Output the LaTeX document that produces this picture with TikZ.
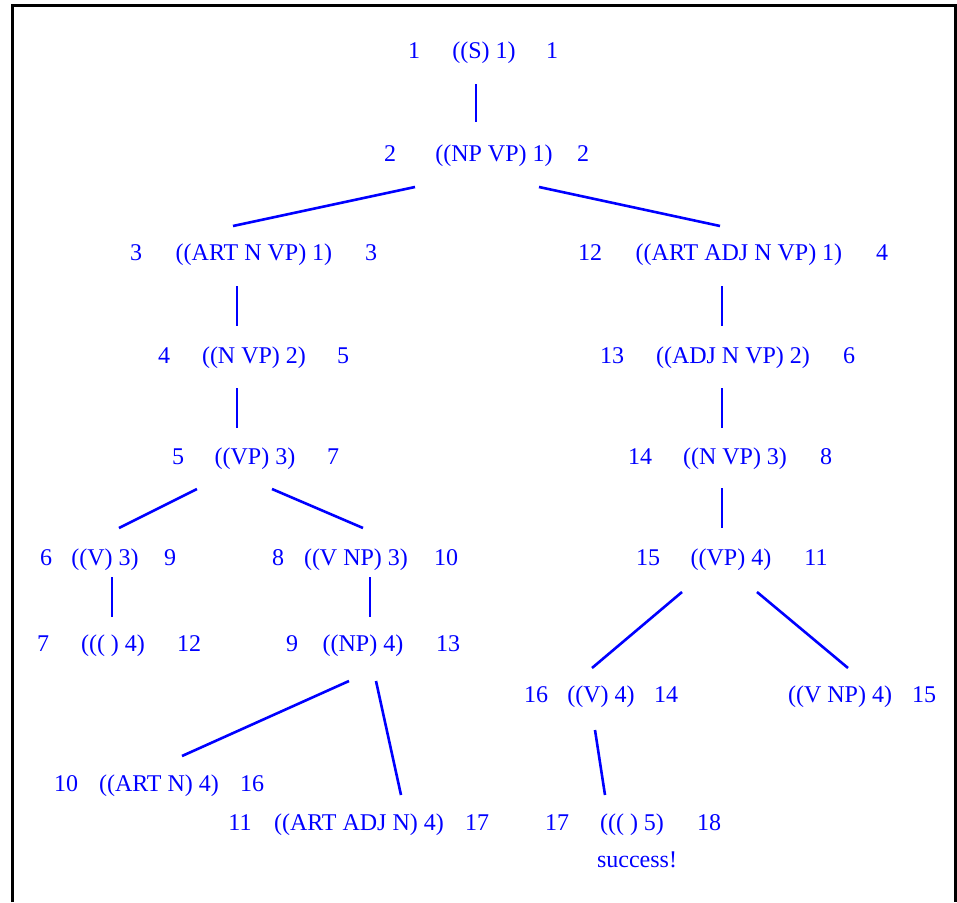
\documentclass[tikz,border=0pt]{standalone}
\usepackage{fontspec}
\setmainfont{Liberation Serif}
\usetikzlibrary{calc}
\tikzset{
  lbl/.style={anchor=base, inner sep=0pt, text=blue},
  link/.style={draw=blue, line width=2.6pt},
}
\begin{document}
\begin{tikzpicture}[x=1pt, y=-1pt, font=\fontsize{24}{28}\selectfont]
\useasboundingbox (0,0) rectangle (957,902);
\draw[line width=3pt] (12,902) |- (955,5) -- (955,902);
% level 1 and 2
\node[lbl] (s1l) at (414,58) {1};
\node[lbl] (s1) at (484,58) {((S) 1)};
\node[lbl] (s1r) at (552,58) {1};
\node[lbl] (s2l) at (390,161) {2};
\node[lbl] (s2) at (494,161) {((NP VP) 1)};
\node[lbl] (s2r) at (583,161) {2};
% left branch
\node[lbl] (s3l) at (136,260) {3};
\node[lbl] (s3) at (254,260) {((ART N VP) 1)};
\node[lbl] (s3r) at (371,260) {3};
\node[lbl] (s4l) at (164,363) {4};
\node[lbl] (s4) at (254,363) {((N VP) 2)};
\node[lbl] (s4r) at (343,363) {5};
\node[lbl] (s5l) at (178,464) {5};
\node[lbl] (s5) at (255,464) {((VP) 3)};
\node[lbl] (s5r) at (333,464) {7};
\node[lbl] (s6l) at (46,565) {6};
\node[lbl] (s6) at (105,565) {((V) 3)};
\node[lbl] (s6r) at (170,565) {9};
\node[lbl] (s8l) at (278,565) {8};
\node[lbl] (s8) at (356,565) {((V NP) 3)};
\node[lbl] (s8r) at (446,565) {10};
\node[lbl] (s7l) at (43,651) {7};
\node[lbl] (s7) at (113,651) {((( ) 4)};
\node[lbl] (s7r) at (189,651) {12};
\node[lbl] (s9l) at (292,651) {9};
\node[lbl] (s9) at (363,651) {((NP) 4)};
\node[lbl] (s9r) at (448,651) {13};
\node[lbl] (s10l) at (66,791) {10};
\node[lbl] (s10) at (159,791) {((ART N) 4)};
\node[lbl] (s10r) at (252,791) {16};
\node[lbl] (s11l) at (240,830) {11};
\node[lbl] (s11) at (359,830) {((ART ADJ N) 4)};
\node[lbl] (s11r) at (477,830) {17};
% right branch
\node[lbl] (s12l) at (590,260) {12};
\node[lbl] (s12) at (739,260) {((ART ADJ N VP) 1)};
\node[lbl] (s12r) at (882,260) {4};
\node[lbl] (s13l) at (612,363) {13};
\node[lbl] (s13) at (733,363) {((ADJ N VP) 2)};
\node[lbl] (s13r) at (849,363) {6};
\node[lbl] (s14l) at (640,464) {14};
\node[lbl] (s14) at (735,464) {((N VP) 3)};
\node[lbl] (s14r) at (826,464) {8};
\node[lbl] (s15l) at (648,565) {15};
\node[lbl] (s15) at (731,565) {((VP) 4)};
\node[lbl] (s15r) at (816,565) {11};
\node[lbl] (s16l) at (536,702) {16};
\node[lbl] (s16) at (601,702) {((V) 4)};
\node[lbl] (s16r) at (666,702) {14};
\node[lbl] (sx) at (840,702) {((V NP) 4)};
\node[lbl] (sxr) at (924,702) {15};
\node[lbl] (s17l) at (557,830) {17};
\node[lbl] (s17) at (632,830) {((( ) 5)};
\node[lbl] (s17r) at (709,830) {18};
\node[lbl] (done) at (637,867) {success!};
% links
\draw[link] ($(s1.base)+(-8,26)$) -- ($(s2.base)+(-18,-39)$);
\draw[link] ($(s2.base)+(-79,26)$) -- ($(s3.base)+(-21,-34)$);
\draw[link] ($(s2.base)+(45,26)$) -- ($(s12.base)+(-19,-34)$);
\draw[link] ($(s3.base)+(-17,26)$) -- ($(s4.base)+(-17,-37)$);
\draw[link] ($(s4.base)+(-17,25)$) -- ($(s5.base)+(-18,-36)$);
\draw[link] ($(s5.base)+(-58,25)$) -- ($(s6.base)+(14,-37)$);
\draw[link] ($(s5.base)+(17,25)$) -- ($(s8.base)+(7,-37)$);
\draw[link] ($(s6.base)+(7,12)$) -- ($(s7.base)+(-1,-34)$);
\draw[link] ($(s8.base)+(14,12)$) -- ($(s9.base)+(7,-34)$);
\draw[link] ($(s9.base)+(-14,30)$) -- ($(s10.base)+(23,-35)$);
\draw[link] ($(s9.base)+(13,30)$) -- ($(s11.base)+(42,-35)$);
\draw[link] ($(s12.base)+(-17,26)$) -- ($(s13.base)+(-11,-37)$);
\draw[link] ($(s13.base)+(-11,25)$) -- ($(s14.base)+(-13,-36)$);
\draw[link] ($(s14.base)+(-13,24)$) -- ($(s15.base)+(-9,-37)$);
\draw[link] ($(s15.base)+(-49,27)$) -- ($(s16.base)+(-9,-34)$);
\draw[link] ($(s15.base)+(26,27)$) -- ($(sx.base)+(8,-34)$);
\draw[link] ($(s16.base)+(-6,28)$) -- ($(s17.base)+(-27,-35)$);
\end{tikzpicture}
\end{document}
